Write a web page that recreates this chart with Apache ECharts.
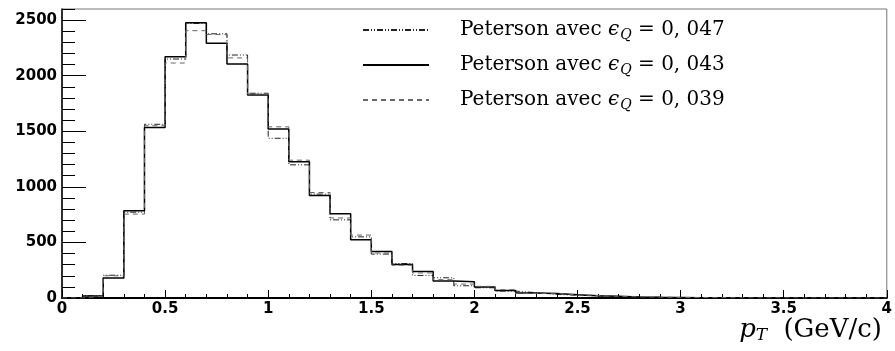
<!DOCTYPE html>
<html>
<head>
<meta charset="utf-8">
<script src="https://cdn.jsdelivr.net/npm/echarts@6/dist/echarts.min.js"></script>
<style>
  html, body { margin: 0; padding: 0; background: #fff; }
  #chart { width: 895px; height: 351px; }
</style>
</head>
<body>
<div id="chart"></div>
<script>
// bornes des bins en p_T (GeV/c)
var binEdges = [0, 0.1, 0.2, 0.3, 0.4, 0.5, 0.6, 0.7, 0.8, 0.9, 1.0, 1.1, 1.2, 1.3, 1.4, 1.5, 1.6, 1.7, 1.8, 1.9, 2.0,
                2.1, 2.2, 2.3, 2.4, 2.5, 2.6, 2.7, 2.8, 2.9, 3.0, 3.1, 3.2, 3.3, 3.4, 3.5, 3.6, 3.7, 3.8, 3.9, 4.0];

// contenu des bins, un tableau par valeur de epsilon_Q
var eps047 = [0, 20, 205, 772, 1563, 2150, 2470, 2377, 2186, 1842, 1437, 1198, 935, 703, 550, 395, 310, 203, 182, 110,
              92, 62, 48, 32, 25, 18, 12, 8, 6, 4, 3, 2, 1, 1, 0, 0, 0, 0, 0, 0];
var eps043 = [0, 18, 180, 785, 1533, 2171, 2476, 2291, 2105, 1827, 1520, 1225, 922, 757, 524, 419, 302, 239, 153, 146,
              99, 68, 45, 40, 30, 20, 15, 10, 7, 5, 3, 2, 2, 1, 1, 0, 0, 0, 0, 0];
var eps039 = [0, 16, 200, 755, 1550, 2114, 2405, 2370, 2160, 1835, 1540, 1240, 949, 720, 566, 405, 295, 225, 165, 125,
              105, 75, 40, 42, 28, 22, 14, 11, 8, 5, 4, 3, 1, 1, 1, 0, 0, 0, 0, 0];

var legendNames = ['0, 047', '0, 043', '0, 039'];

function histo(vals) {
    var pts = [];
    for (var i = 0; i < vals.length; ++i) {
        pts.push([binEdges[i], vals[i]]);
    }
    pts.push([binEdges[vals.length], vals[vals.length - 1]]);
    return pts;
}

var myChart = echarts.init(document.getElementById('chart'), null, { renderer: 'canvas' });

var labelFont = { fontFamily: 'DejaVu Sans', fontWeight: 'bold', fontSize: 15, color: '#000' };

var option = {
    animation: false,
    backgroundColor: '#fff',
    grid: {
        left: 62, right: 8, top: 9, bottom: 53,
        show: true, borderColor: '#777', borderWidth: 1
    },
    legend: {
        orient: 'vertical',
        left: 357,
        top: 15,
        itemWidth: 66,
        itemHeight: 16,
        itemGap: 13,
        data: legendNames,
        itemStyle: { opacity: 0, borderWidth: 0 },
        textStyle: {
            fontFamily: 'DejaVu Serif',
            fontSize: 20,
            color: '#000',
            padding: [0, 0, 0, 26],
            rich: {
                e: { fontFamily: 'DejaVu Serif', fontStyle: 'italic', fontSize: 20, color: '#000' },
                s: { fontFamily: 'DejaVu Serif', fontStyle: 'italic', fontSize: 14, color: '#000', padding: [10, 0, 0, 1] }
            }
        },
        formatter: function (name) {
            return 'Peterson avec {e|ϵ}{s|Q} = ' + name;
        }
    },
    xAxis: {
        type: 'value',
        min: 0, max: 4, interval: 0.5,
        axisLine: { lineStyle: { color: '#000', width: 2 } },
        axisTick: { inside: true, length: 8, lineStyle: { color: '#000' } },
        minorTick: { show: true, splitNumber: 5, length: 4, lineStyle: { color: '#000' } },
        splitLine: { show: false },
        axisLabel: Object.assign({ margin: 4 }, labelFont)
    },
    yAxis: [{
        type: 'value',
        min: 0, max: 2600, interval: 500,
        axisLine: { show: true, lineStyle: { color: '#000', width: 1.5 } },
        axisTick: { inside: true, length: 24, lineStyle: { color: '#000' } },
        splitLine: { show: false },
        axisLabel: Object.assign({
            margin: 5, showMaxLabel: false,
            formatter: function (v) { return String(v); }
        }, labelFont)
    }, {
        type: 'value',
        position: 'left',
        min: 0, max: 2600, interval: 100,
        axisLine: { show: false },
        axisTick: { inside: true, length: 13, lineStyle: { color: '#000' } },
        splitLine: { show: false },
        axisLabel: { show: false }
    }],
    series: [{
        name: legendNames[0],
        type: 'line',
        step: 'end',
        symbol: 'none',
        data: histo(eps047),
        lineStyle: { color: '#222', width: 1, type: [6, 2, 1, 2, 1, 2] },
        itemStyle: { color: '#222' }
    }, {
        name: legendNames[1],
        type: 'line',
        step: 'end',
        symbol: 'none',
        data: histo(eps043),
        lineStyle: { color: '#000', width: 1.5, type: 'solid' },
        itemStyle: { color: '#000' },
        z: 3
    }, {
        name: legendNames[2],
        type: 'line',
        step: 'end',
        symbol: 'none',
        data: histo(eps039),
        lineStyle: { color: '#666', width: 1, type: [5, 4] },
        itemStyle: { color: '#666' }
    }],
    graphic: [{
        type: 'text',
        right: 13,
        top: 317,
        style: {
            text: '{p|p}{t|T} (GeV/c)',
            font: '26px "DejaVu Serif"',
            fill: '#000',
            rich: {
                p: { fontFamily: 'DejaVu Serif', fontStyle: 'italic', fontSize: 26, fill: '#000' },
                t: { fontFamily: 'DejaVu Serif', fontStyle: 'italic', fontSize: 17, fill: '#000', padding: [11, 8, 0, 0] }
            }
        }
    }]
};

myChart.setOption(option);
</script>
</body>
</html>
